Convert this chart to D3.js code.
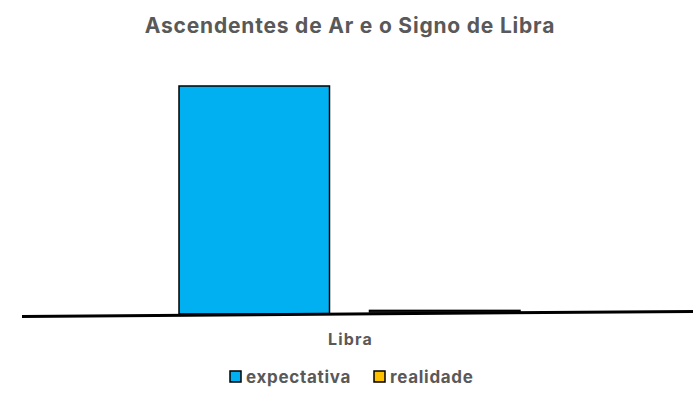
<!DOCTYPE html>
<html>
<head>
<meta charset="utf-8">
<script src="https://cdn.jsdelivr.net/npm/d3@7"></script>
<style>
  body { margin: 0; background: #fff; }
  text { font-family: Inter, "Open Sans", sans-serif; }
</style>
</head>
<body>
<div id="chart"></div>
<script>
const categories = ["Libra"];
const series = ["expectativa", "realidade"];
const expectativa = [100];
const realidade = [0.7];
const colors = ["#00B0F0", "#FFC000"];

const W = 700, H = 400;
const margin = {top: 86, right: 23, bottom: 86, left: 22};

const svg = d3.select("#chart").append("svg")
    .attr("width", W).attr("height", H);

svg.append("text")
    .attr("x", 350).attr("y", 33)
    .attr("text-anchor", "middle")
    .attr("font-size", 21).attr("font-weight", 700)
    .attr("letter-spacing", 0.8)
    .attr("fill", "#595959")
    .text("Ascendentes de Ar e o Signo de Libra");

const x0 = d3.scaleBand().domain(categories).range([margin.left, 677]);
const x1 = d3.scaleBand().domain(series)
    .range([157, x0.bandwidth() - 157]).paddingInner(0.21);
const y = d3.scaleLinear().domain([0, 100]).range([H - margin.bottom, margin.top]);

const rows = categories.map((c, i) => ({cat: c, vals: [expectativa[i], realidade[i]]}));

const g = svg.append("g");
g.selectAll("g.cat").data(rows).enter().append("g")
    .attr("class", "cat")
    .attr("transform", d => "translate(" + x0(d.cat) + ",0)")
  .selectAll("rect").data(d => d.vals.map((v, j) => ({s: series[j], v: v, j: j})))
    .enter().append("rect")
    .attr("x", d => x1(d.s))
    .attr("y", d => y(d.v) - (d.j === 1 ? 2 : 0))
    .attr("width", x1.bandwidth())
    .attr("height", d => y(0) - y(d.v))
    .attr("fill", (d) => colors[d.j])
    .attr("stroke", "#000").attr("stroke-width", 1.5);

// baseline, slightly tilted as in the original
const x0a = x0.range()[0], x0b = W - 7;
svg.append("line")
    .attr("x1", x0a).attr("x2", x0b)
    .attr("y1", y(0) + 2.5).attr("y2", y(0) + 2.5)
    .attr("stroke", "#000").attr("stroke-width", 3)
    .attr("transform", "rotate(-0.43 " + x0a + " " + (y(0) + 2.5) + ")");

svg.selectAll("text.cat").data(categories).enter().append("text")
    .attr("class", "cat")
    .attr("x", d => x0(d) + x0.bandwidth() / 2 + 1)
    .attr("y", 345)
    .attr("text-anchor", "middle")
    .attr("font-size", 16).attr("font-weight", 700)
    .attr("letter-spacing", 1.2)
    .attr("fill", "#595959")
    .text(d => d);

const legendX = [230, 374];
const leg = svg.selectAll("g.leg").data(series).enter().append("g")
    .attr("class", "leg")
    .attr("transform", (d, i) => "translate(" + legendX[i] + ",371)");
leg.append("rect")
    .attr("width", 11).attr("height", 11)
    .attr("fill", (d, i) => colors[i])
    .attr("stroke", "#000").attr("stroke-width", 1.5);
leg.append("text")
    .attr("x", 16).attr("y", 12)
    .attr("font-size", 17).attr("font-weight", 700)
    .attr("letter-spacing", 0.7)
    .attr("fill", "#595959")
    .text(d => d);
</script>
</body>
</html>
